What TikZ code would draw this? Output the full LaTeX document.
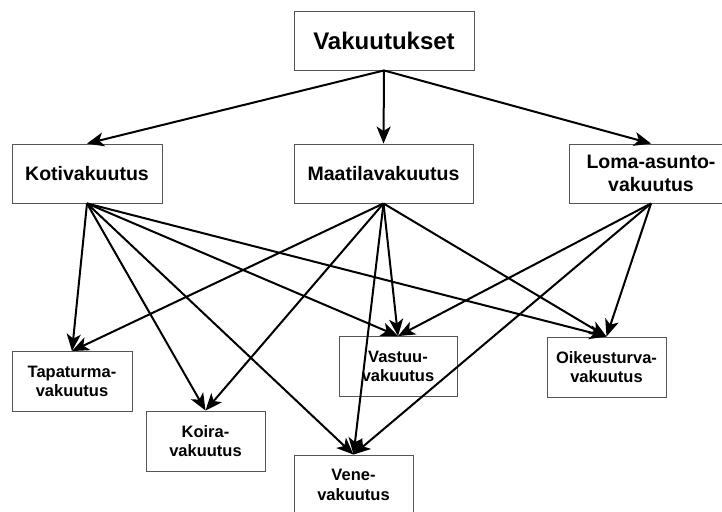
\documentclass[tikz,border=0pt]{standalone}
\usepackage{fontspec}
\setmainfont{Liberation Sans}
\usepackage{xcolor}
\definecolor{BoxGrey}{HTML}{555555}
\usepackage{tikz}
\usetikzlibrary{arrows.meta}
\tikzstyle{block} = [rectangle, draw=BoxGrey, fill=white, text=black, line width=0.9pt, inner sep=0pt, align=center, minimum height=59pt]
\tikzstyle{rootblock} = [block, font=\bfseries\fontsize{24pt}{28pt}\selectfont]
\tikzstyle{midblock} = [block, font=\bfseries\fontsize{19.5pt}{23pt}\selectfont]
\tikzstyle{lowblock} = [block, minimum height=60pt, font=\bfseries\fontsize{16.5pt}{19.5pt}\selectfont]
\tikzstyle{arrow} = [-{Stealth[length=17pt,width=14pt,inset=4.5pt]}, line width=2pt, color=black]

\begin{document}
\begin{tikzpicture}[x=1pt, y=-1pt]
        \clip (0,0) rectangle (722,511);
        \fill [white] (0,0) rectangle (722,511);

        % Top level
        \node [rootblock, minimum width=180pt] (vakuutukset) at (384,40.5) {Vakuutukset};

        % Second level
        \node [midblock, minimum width=150pt] (koti) at (87,173.5) {Kotivakuutus};
        \node [midblock, minimum width=179pt] (maatila) at (383.5,173.5) {Maatilavakuutus};
        \node [midblock, minimum width=164pt] (loma) at (651,173.5) {Loma-asunto-\\vakuutus};

        % Third level
        \node [lowblock, minimum width=120pt] (tapaturma) at (72,381.5) {Tapaturma-\\vakuutus};
        \node [lowblock, minimum width=119pt] (koira) at (205.5,441) {Koira-\\vakuutus};
        \node [lowblock, minimum width=118pt] (vastuu) at (398,366.5) {Vastuu-\\vakuutus};
        \node [lowblock, minimum width=119pt] (oikeus) at (606.5,367) {Oikeusturva-\\vakuutus};
        \node [lowblock, minimum width=119pt] (vene) at (353.5,485) {Vene-\\vakuutus};

        % Connect nodes
        \foreach \dst in {koti, maatila, loma}
            \draw [arrow] (vakuutukset.south) -- (\dst.north);
        \foreach \dst in {tapaturma, koira, vene, vastuu, oikeus}
            \draw [arrow] (koti.south) -- (\dst.north);
        \foreach \dst in {tapaturma, koira, vene, vastuu, oikeus}
            \draw [arrow] (maatila.south) -- (\dst.north);
        \foreach \dst in {vastuu, vene, oikeus}
            \draw [arrow] (loma.south) -- (\dst.north);
    \end{tikzpicture}
\end{document}
